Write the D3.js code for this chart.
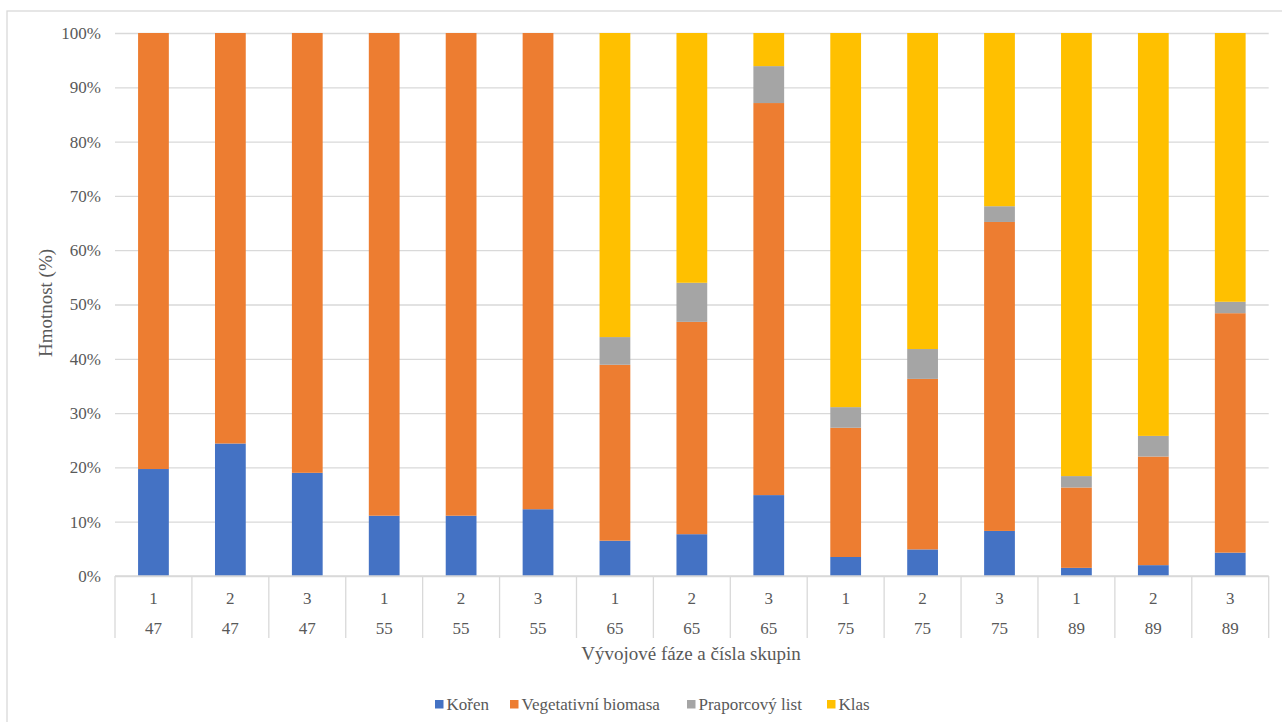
<!DOCTYPE html>
<html>
<head>
<meta charset="utf-8">
<script src="https://cdn.jsdelivr.net/npm/d3@7"></script>
<style>
  html, body { margin: 0; padding: 0; background: #fff; }
  svg { display: block; }
</style>
</head>
<body>
<svg id="chart" width="1282" height="722"></svg>
<script>
// ---- data ----
const groups = ["1","2","3","1","2","3","1","2","3","1","2","3","1","2","3"];
const phases = ["47","47","47","55","55","55","65","65","65","75","75","75","89","89","89"];
const seriesNames = ["Kořen", "Vegetativní biomasa", "Praporcový list", "Klas"];
const koren  = [19.7, 24.4, 19.0, 11.1, 11.1, 12.3, 6.5, 7.7, 14.9, 3.5, 4.9, 8.3, 1.5, 2.0, 4.3];
const vegBio = [80.3, 75.6, 81.0, 88.9, 88.9, 87.7, 32.4, 39.1, 72.2, 23.8, 31.4, 56.9, 14.8, 20.0, 44.1];
const prapor = [0, 0, 0, 0, 0, 0, 5.1, 7.2, 6.8, 3.8, 5.5, 2.9, 2.1, 3.8, 2.1];
const klas   = [0, 0, 0, 0, 0, 0, 56.0, 46.0, 6.1, 68.9, 58.2, 31.9, 81.6, 74.2, 49.5];
const yTicks = [0, 10, 20, 30, 40, 50, 60, 70, 80, 90, 100];
const colors = ["#4472C4", "#ED7D31", "#A5A5A5", "#FFC000"];

(function () {
// ---- layout ----
const svg = d3.select("#chart");
const pLeft = 115, pRight = 1268.7, pTop = 33, pBottom = 576;
const font = "'Liberation Serif', 'Times New Roman', serif";
const textColor = "#595959";
const gridColor = "#d9d9d9";

// chart frame
svg.append("rect").attr("x", 7).attr("y", 11).attr("width", 1300).attr("height", 730)
  .attr("fill", "#fff").attr("stroke", gridColor).attr("stroke-width", 1.3);

const rows = groups.map((g, i) => ({
  idx: i, "Kořen": koren[i], "Vegetativní biomasa": vegBio[i],
  "Praporcový list": prapor[i], "Klas": klas[i]
}));

const x = d3.scaleBand().domain(d3.range(groups.length)).range([pLeft, pRight])
  .paddingInner(0.6).paddingOuter(0.3);
const y = d3.scaleLinear().domain([0, 100]).range([pBottom, pTop]);

// gridlines + y labels
const yAxis = d3.axisLeft(y).tickValues(yTicks).tickSize(-(pRight - pLeft))
  .tickFormat(d => d + "%").tickPadding(14);
const gy = svg.append("g").attr("transform", `translate(${pLeft},0)`).call(yAxis);
gy.select(".domain").remove();
gy.selectAll(".tick line").attr("stroke", gridColor).attr("stroke-width", 1.3);
gy.selectAll(".tick text").attr("fill", textColor).attr("font-family", font)
  .attr("font-size", "17px");

// stacked bars
const stack = d3.stack().keys(seriesNames);
const stacked = stack(rows);
svg.append("g").selectAll("g").data(stacked).join("g")
  .attr("fill", (d, i) => colors[i])
  .selectAll("rect").data(d => d).join("rect")
  .attr("x", d => x(d.data.idx))
  .attr("width", x.bandwidth())
  .attr("y", d => y(d[1]))
  .attr("height", d => Math.max(0, y(d[0]) - y(d[1])));

// category axis (two-level)
const step = x.step();
const axisG = svg.append("g");
axisG.append("line").attr("x1", pLeft).attr("x2", pRight).attr("y1", pBottom).attr("y2", pBottom)
  .attr("stroke", gridColor).attr("stroke-width", 1.3);
const boundaries = d3.range(groups.length + 1).map(i => pLeft + i * step);
axisG.selectAll("line.sep").data(boundaries).join("line").attr("class", "sep")
  .attr("x1", d => d).attr("x2", d => d).attr("y1", pBottom).attr("y2", 638)
  .attr("stroke", gridColor).attr("stroke-width", 1.3);
axisG.selectAll("text.g1").data(groups).join("text").attr("class", "g1")
  .attr("x", (d, i) => x(i) + x.bandwidth() / 2).attr("y", 598)
  .attr("dy", "0.35em").attr("text-anchor", "middle")
  .attr("font-family", font).attr("font-size", "17px").attr("fill", textColor)
  .text(d => d);
axisG.selectAll("text.g2").data(phases).join("text").attr("class", "g2")
  .attr("x", (d, i) => x(i) + x.bandwidth() / 2).attr("y", 628)
  .attr("dy", "0.35em").attr("text-anchor", "middle")
  .attr("font-family", font).attr("font-size", "17px").attr("fill", textColor)
  .text(d => d);

// axis titles
svg.append("text").attr("x", 691).attr("y", 653).attr("dy", "0.35em")
  .attr("text-anchor", "middle").attr("font-family", font).attr("font-size", "19px")
  .attr("fill", textColor).text("Vývojové fáze a čísla skupin");
svg.append("text").attr("transform", "translate(45,303) rotate(-90)").attr("dy", "0.35em")
  .attr("text-anchor", "middle").attr("font-family", font).attr("font-size", "19px")
  .attr("fill", textColor).text("Hmotnost (%)");

// legend
const legendX = [435, 510, 687, 827];
const lg = svg.append("g").selectAll("g").data(seriesNames).join("g")
  .attr("transform", (d, i) => `translate(${legendX[i]},700)`);
lg.append("rect").attr("width", 8.5).attr("height", 8.5).attr("fill", (d, i) => colors[i]);
lg.append("text").attr("x", 11.5).attr("y", 4.3).attr("dy", "0.35em")
  .attr("font-family", font).attr("font-size", "17px").attr("fill", textColor)
  .text(d => d);
})();
</script>
</body>
</html>
